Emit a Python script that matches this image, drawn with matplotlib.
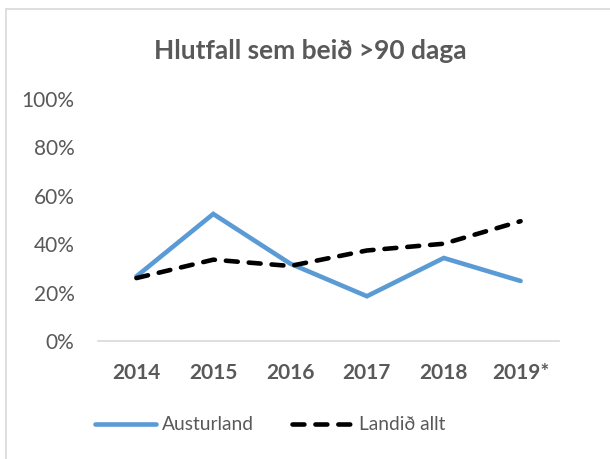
import matplotlib.pyplot as plt
from matplotlib.patches import Rectangle

years = ["2014", "2015", "2016", "2017", "2018", "2019*"]
austurland = [26.7, 52.5, 32.0, 18.5, 34.3, 24.8]
landid_allt = [26.0, 33.6, 31.0, 37.4, 40.2, 49.5]
yticks = [0, 20, 40, 60, 80, 100]

txt = "#595959"
plt.rcParams['font.family'] = ['Lato', 'DejaVu Sans']

fig = plt.figure(figsize=(6.1, 4.59), dpi=100)
ax = fig.add_axes([98/610, 1-341/459, (559-98)/610, (341-99)/459])

x = range(len(years))
ax.plot(x, austurland, color="#5B9BD5", lw=3.3, solid_capstyle="round",
        solid_joinstyle="miter", label="Austurland")
ax.plot(x, landid_allt, color="black", lw=3.3, linestyle=(0, (2.6, 2.4)),
        dash_capstyle="round", label="Landið allt")

ax.set_xlim(-0.5, len(years) - 0.5)
ax.set_ylim(0, 100)
ax.set_yticks(yticks)
ax.set_yticklabels([f"{v}%" for v in yticks], color=txt, fontsize=15)
ax.set_xticks(list(x))
ax.set_xticklabels(years, color=txt, fontsize=15, fontweight="bold")
ax.tick_params(length=0)
ax.tick_params(axis="y", pad=17)
ax.tick_params(axis="x", pad=16)
for s in ["top", "right", "left"]:
    ax.spines[s].set_visible(False)
ax.spines["bottom"].set_color("#D9D9D9")
ax.spines["bottom"].set_linewidth(1.2)

fig.text(310/610, 1-51/459, "Hlutfall sem beið >90 daga", ha="center", va="center",
         fontsize=19, fontweight="bold", color=txt)

leg = fig.legend(loc="center", bbox_to_anchor=(270/610, 1-425/459), ncol=2, frameon=False,
                 fontsize=13.8, handlelength=3.2, columnspacing=2.0, handletextpad=0.3)
for t in leg.get_texts():
    t.set_color(txt)

# outer chart frame
fig.patches.append(Rectangle((6/610, -0.1), 1.2, 1 - 9/459 + 0.1, transform=fig.transFigure,
                             fill=False, edgecolor="#D9D9D9", lw=1.2))

fig.savefig("out.png", dpi=100)
